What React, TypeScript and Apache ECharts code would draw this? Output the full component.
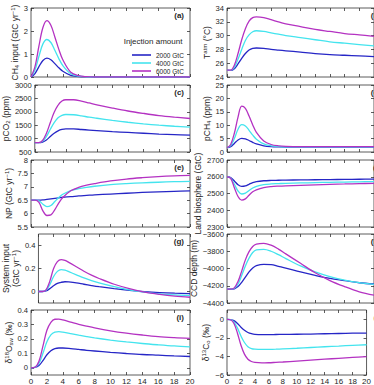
import React, { useEffect, useRef } from 'react';
import * as echarts from 'echarts';

// time axis (years)
const T = [0, 0.5, 1, 1.5, 2, 2.5, 3, 3.5, 4, 5, 6, 7, 8, 10, 12, 14, 16, 18, 20];
const X_TICKS = [0, 2, 4, 6, 8, 10, 12, 14, 16, 18, 20];
const SERIES_NAMES = ['2000 GtC', '4000 GtC', '6000 GtC'];
const COLORS = ['#2626c6', '#44e4ee', '#b432c2'];
const LEGEND_TITLE = 'Injection amount';

// (a) CH4 input
const A_2000 = [0, 0.15, 0.45, 0.72, 0.82, 0.75, 0.58, 0.4, 0.25, 0.07, 0.02, 0.005, 0, 0, 0, 0, 0, 0, 0];
const A_4000 = [0, 0.3, 0.9, 1.44, 1.63, 1.5, 1.16, 0.8, 0.5, 0.14, 0.04, 0.01, 0, 0, 0, 0, 0, 0, 0];
const A_6000 = [0, 0.45, 1.35, 2.15, 2.45, 2.25, 1.74, 1.2, 0.75, 0.21, 0.06, 0.015, 0, 0, 0, 0, 0, 0, 0];
const A_TICKS = [0, 1, 2, 3];
// (b) T atm
const B_2000 = [25, 24.95, 25.2, 25.9, 26.7, 27.4, 27.9, 28.15, 28.2, 28.15, 28.0, 27.9, 27.8, 27.6, 27.4, 27.25, 27.15, 27.05, 26.95];
const B_4000 = [25, 24.95, 25.4, 26.6, 28.0, 29.3, 30.1, 30.55, 30.7, 30.6, 30.4, 30.2, 30.0, 29.7, 29.4, 29.1, 28.9, 28.7, 28.5];
const B_6000 = [25, 25.0, 25.7, 27.4, 29.4, 31.0, 32.1, 32.6, 32.7, 32.6, 32.3, 32.0, 31.7, 31.3, 30.9, 30.6, 30.3, 30.1, 29.9];
const B_TICKS = [24, 26, 28, 30, 32, 34];
// (c) pCO2
const C_2000 = [850, 850, 870, 950, 1080, 1200, 1290, 1340, 1360, 1360, 1340, 1320, 1300, 1260, 1230, 1200, 1170, 1150, 1130];
const C_4000 = [850, 850, 900, 1080, 1350, 1600, 1780, 1870, 1900, 1890, 1850, 1800, 1760, 1680, 1610, 1550, 1500, 1460, 1430];
const C_6000 = [850, 850, 930, 1200, 1600, 1980, 2250, 2400, 2450, 2450, 2400, 2330, 2260, 2140, 2030, 1940, 1860, 1800, 1750];
const C_TICKS = [500, 1000, 1500, 2000, 2500, 3000];
// (d) pCH4
const D_2000 = [1.6, 2.0, 3.2, 4.5, 5.1, 4.9, 4.3, 3.6, 3.0, 2.3, 2.0, 1.9, 1.85, 1.8, 1.8, 1.8, 1.8, 1.8, 1.8];
const D_4000 = [1.6, 2.4, 5.0, 8.5, 10.2, 9.7, 8.1, 6.3, 4.8, 3.0, 2.3, 2.05, 1.95, 1.9, 1.9, 1.9, 1.9, 1.9, 1.9];
const D_6000 = [1.6, 2.8, 7.0, 13.0, 17.1, 16.3, 13.4, 10.1, 7.3, 4.1, 2.8, 2.3, 2.1, 2.0, 2.0, 2.0, 2.0, 2.0, 2.0];
const D_TICKS = [0, 5, 10, 15, 20, 25];
// (e) NP
const E_2000 = [6.5, 6.5, 6.5, 6.51, 6.53, 6.55, 6.57, 6.59, 6.61, 6.63, 6.66, 6.68, 6.7, 6.73, 6.76, 6.79, 6.81, 6.83, 6.85];
const E_4000 = [6.5, 6.5, 6.48, 6.35, 6.26, 6.3, 6.45, 6.6, 6.72, 6.86, 6.93, 6.98, 7.02, 7.08, 7.12, 7.15, 7.17, 7.19, 7.2];
const E_6000 = [6.5, 6.5, 6.42, 6.1, 5.93, 5.95, 6.15, 6.4, 6.6, 6.85, 6.98, 7.06, 7.12, 7.22, 7.29, 7.34, 7.38, 7.41, 7.43];
const E_TICKS = [5.5, 6, 6.5, 7, 7.5, 8];
// (f) Land biosphere
const F_2000 = [2600, 2595, 2575, 2552, 2542, 2545, 2555, 2565, 2571, 2576, 2578, 2579, 2580, 2581, 2582, 2583, 2584, 2585, 2586];
const F_4000 = [2600, 2592, 2555, 2515, 2497, 2502, 2518, 2533, 2543, 2553, 2557, 2559, 2561, 2563, 2565, 2567, 2568, 2570, 2571];
const F_6000 = [2600, 2590, 2535, 2482, 2461, 2468, 2490, 2510, 2522, 2535, 2541, 2544, 2546, 2549, 2552, 2555, 2557, 2559, 2561];
const F_TICKS = [2300, 2400, 2500, 2600, 2700];
// (g) System input
const G_2000 = [0, 0, 0.005, 0.025, 0.05, 0.07, 0.08, 0.085, 0.083, 0.075, 0.063, 0.052, 0.042, 0.025, 0.01, -0.002, -0.01, -0.015, -0.018];
const G_4000 = [0, 0, 0.01, 0.06, 0.13, 0.175, 0.19, 0.185, 0.172, 0.145, 0.118, 0.095, 0.075, 0.042, 0.015, -0.005, -0.02, -0.03, -0.035];
const G_6000 = [0, 0, 0.015, 0.09, 0.2, 0.26, 0.278, 0.27, 0.253, 0.215, 0.176, 0.142, 0.113, 0.063, 0.025, -0.005, -0.025, -0.04, -0.05];
const G_TICKS = [0, 0.2, 0.4];
// (h) CCD depth
const H_2000 = [-4240, -4240, -4235, -4210, -4160, -4100, -4040, -3995, -3968, -3952, -3955, -3975, -3995, -4040, -4080, -4115, -4140, -4165, -4180];
const H_4000 = [-4240, -4240, -4230, -4180, -4080, -3970, -3880, -3815, -3785, -3778, -3800, -3840, -3885, -3970, -4040, -4095, -4135, -4165, -4185];
const H_6000 = [-4240, -4240, -4225, -4150, -4030, -3900, -3805, -3745, -3718, -3708, -3730, -3775, -3830, -3940, -4050, -4140, -4210, -4270, -4310];
const H_TICKS = [-4400, -4200, -4000, -3800, -3600];
// (i) d18O sw
const I_2000 = [0, 0.002, 0.015, 0.05, 0.09, 0.118, 0.132, 0.137, 0.137, 0.133, 0.127, 0.121, 0.116, 0.107, 0.099, 0.092, 0.087, 0.082, 0.078];
const I_4000 = [0, 0.003, 0.03, 0.1, 0.18, 0.228, 0.247, 0.25, 0.247, 0.237, 0.226, 0.216, 0.207, 0.192, 0.179, 0.168, 0.159, 0.151, 0.145];
const I_6000 = [0, 0.004, 0.045, 0.15, 0.26, 0.315, 0.336, 0.337, 0.331, 0.316, 0.301, 0.288, 0.276, 0.256, 0.24, 0.227, 0.216, 0.209, 0.204];
const I_TICKS = [0, 0.1, 0.2, 0.3, 0.4];
// (j) d13C
const J_2000 = [0, -0.03, -0.15, -0.45, -0.85, -1.18, -1.42, -1.55, -1.62, -1.65, -1.65, -1.64, -1.63, -1.61, -1.59, -1.56, -1.53, -1.5, -1.48];
const J_4000 = [0, -0.04, -0.3, -0.95, -1.8, -2.5, -2.95, -3.15, -3.22, -3.25, -3.24, -3.22, -3.19, -3.12, -3.04, -2.96, -2.88, -2.8, -2.74];
const J_6000 = [0, -0.05, -0.45, -1.5, -2.8, -3.75, -4.3, -4.55, -4.65, -4.7, -4.68, -4.64, -4.6, -4.5, -4.4, -4.3, -4.2, -4.1, -4.02];
const J_TICKS = [-6, -4, -2, 0];

const FONT = "'Liberation Sans', Arial, sans-serif";
const TXT = '#262626';

const PANELS = [
  { tag: '(a)', col: 0, row: 0, min: 0, max: 3, ticks: A_TICKS, data: [A_2000, A_4000, A_6000], name: 'CH{sub|4} input (GtC yr{sup|−1})', gap: 10 },
  { tag: '(b)', col: 1, row: 0, min: 24, max: 34, ticks: B_TICKS, data: [B_2000, B_4000, B_6000], name: 'T{sup|atm} (°C)', gap: 15 },
  { tag: '(c)', col: 0, row: 1, min: 500, max: 3000, ticks: C_TICKS, data: [C_2000, C_4000, C_6000], name: 'pCO{sub|2} (ppm)', gap: 19 },
  { tag: '(d)', col: 1, row: 1, min: 0, max: 25, ticks: D_TICKS, data: [D_2000, D_4000, D_6000], name: 'pCH{sub|4} (ppm)', gap: 12 },
  { tag: '(e)', col: 0, row: 2, min: 5.5, max: 8, ticks: E_TICKS, data: [E_2000, E_4000, E_6000], name: 'NP (GtC yr{sup|−1})', gap: 17 },
  { tag: '(f)', col: 1, row: 2, min: 2300, max: 2700, ticks: F_TICKS, data: [F_2000, F_4000, F_6000], name: 'Land biosphere (GtC)', gap: 22 },
  { tag: '(g)', col: 0, row: 3, min: -0.1, max: 0.5, ticks: G_TICKS, data: [G_2000, G_4000, G_6000], name: 'System input\n(GtC yr{sup|−1})', gap: 13 },
  { tag: '(h)', col: 1, row: 3, min: -4400, max: -3600, ticks: H_TICKS, data: [H_2000, H_4000, H_6000], name: 'CCD depth (m)', gap: 27 },
  { tag: '(i)', col: 0, row: 4, min: -0.05, max: 0.4, ticks: I_TICKS, data: [I_2000, I_4000, I_6000], name: 'δ{sup|18}O{sub|sw} (‰)', gap: 16 },
  { tag: '(j)', col: 1, row: 4, min: -6, max: 1, ticks: J_TICKS, data: [J_2000, J_4000, J_6000], name: 'δ{sup|13}C{sub|o} (‰)', gap: 15 },
];

const COL_LEFT = [31, 227];
const COL_WIDTH = [159, 160];
const ROW_TOP = [8, 85, 160, 234, 310];
const ROW_H = [69, 67, 67, 69, 68];

const fmt = (v: number) => String(Math.round(v * 1000) / 1000).replace('-', '−');

export default function App() {
  const ref = useRef<HTMLDivElement>(null);
  useEffect(() => {
    if (!ref.current) return;
    const chart = echarts.init(ref.current, undefined, { renderer: 'svg' });
    const grid: any[] = [];
    const xAxis: any[] = [];
    const yAxis: any[] = [];
    const series: any[] = [];
    const graphic: any[] = [];
    const tickStyle = { show: true, inside: true, length: 3, lineStyle: { color: '#333', width: 0.8 } };
    const noLine = { show: false, onZero: false };
    PANELS.forEach((p, i) => {
      const left = COL_LEFT[p.col];
      const width = COL_WIDTH[p.col];
      const top = ROW_TOP[p.row];
      const height = ROW_H[p.row];
      grid.push({ left, top, width, height, show: true, borderColor: '#333', borderWidth: 0.8, backgroundColor: 'transparent' });
      const lastRow = p.row === 4;
      xAxis.push({
        type: 'value', gridIndex: i, min: 0, max: 20, position: 'bottom',
        axisLine: noLine, splitLine: { show: false },
        axisTick: { ...tickStyle, customValues: X_TICKS },
        axisLabel: { show: lastRow, customValues: X_TICKS, fontSize: 8, color: TXT, fontFamily: FONT, margin: 2, formatter: fmt },
      });
      xAxis.push({
        type: 'value', gridIndex: i, min: 0, max: 20, position: 'top',
        axisLine: noLine, splitLine: { show: false },
        axisTick: { ...tickStyle, customValues: X_TICKS },
        axisLabel: { show: false },
      });
      yAxis.push({
        type: 'value', gridIndex: i, min: p.min, max: p.max, position: 'left',
        axisLine: noLine, splitLine: { show: false },
        axisTick: { ...tickStyle, customValues: p.ticks },
        axisLabel: { customValues: p.ticks, fontSize: 7.6, color: TXT, fontFamily: FONT, margin: 3, formatter: fmt },
        name: p.name, nameLocation: 'middle', nameGap: p.gap, nameRotate: 90,
        nameTextStyle: {
          fontSize: 8.5, color: TXT, fontFamily: FONT, lineHeight: 10,
          rich: {
            sub: { fontSize: 6, fontFamily: FONT, color: TXT, verticalAlign: 'bottom', lineHeight: 6 },
            sup: { fontSize: 6, fontFamily: FONT, color: TXT, verticalAlign: 'top', lineHeight: 6 },
          },
        },
      });
      yAxis.push({
        type: 'value', gridIndex: i, min: p.min, max: p.max, position: 'right',
        axisLine: noLine, splitLine: { show: false },
        axisTick: { ...tickStyle, customValues: p.ticks },
        axisLabel: { show: false },
      });
      p.data.forEach((vals, k) => {
        series.push({
          type: 'line', name: SERIES_NAMES[k], xAxisIndex: 2 * i, yAxisIndex: 2 * i,
          data: T.map((t, j) => [t, vals[j]]),
          showSymbol: false, symbol: 'none', smooth: 0.35,
          lineStyle: { color: COLORS[k], width: 1.3 }, itemStyle: { color: COLORS[k] },
          silent: true,
        });
      });
      graphic.push({
        type: 'text', x: left + width - 6, y: top + 7,
        style: { text: p.tag, font: `bold 8px ${FONT}`, fill: TXT, textAlign: 'right', textVerticalAlign: 'middle' },
      });
    });
    graphic.push({
      type: 'text', x: 153, y: 41,
      style: { text: LEGEND_TITLE, font: `8px ${FONT}`, fill: TXT, textAlign: 'center', textVerticalAlign: 'middle' },
    });
    chart.setOption({
      animation: false,
      grid, xAxis, yAxis, series, graphic,
      legend: {
        data: SERIES_NAMES.map((n, k) => ({ name: n, icon: 'rect', itemStyle: { color: COLORS[k] } })),
        orient: 'vertical', left: 127, top: 46,
        itemWidth: 19, itemHeight: 1.6, itemGap: 0,
        textStyle: { fontSize: 6.5, color: TXT, fontFamily: FONT, lineHeight: 8 },
        selectedMode: false,
      },
    });
    return () => chart.dispose();
  }, []);
  return <div ref={ref} style={{ position: 'fixed', left: 0, top: 0, width: 374, height: 385, background: '#fff' }} />;
}
